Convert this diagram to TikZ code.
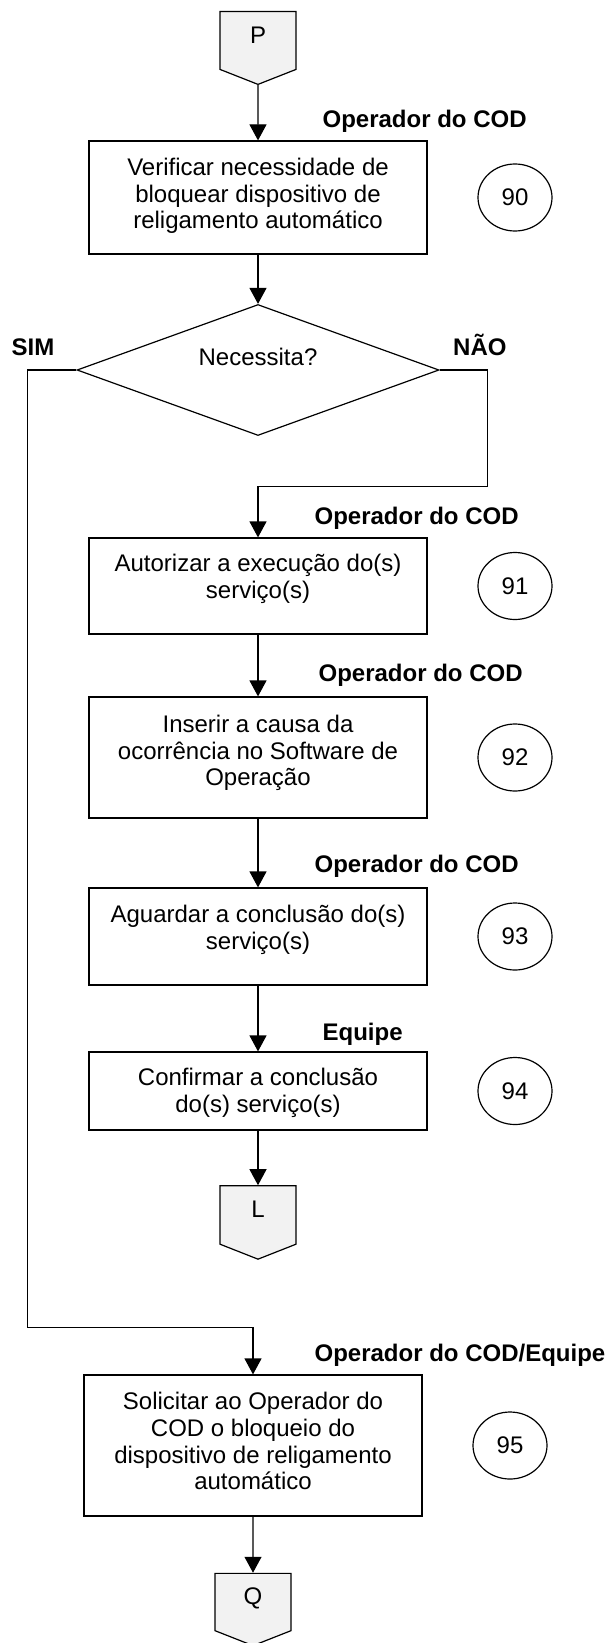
\documentclass[tikz,border=0pt]{standalone}
\usepackage{fontspec}
\setmainfont{Liberation Sans}
\usetikzlibrary{shapes.geometric,shapes.symbols,arrows.meta}
% texto da caixa, levantado um pouco
\newcommand{\boxtext}[2]{\raisebox{#1}[\height][\depth]{\begin{tabular}{@{}c@{}}#2\end{tabular}}}

\begin{document}
\begin{tikzpicture}[font=\fontsize{12}{13.35}\selectfont, line width=0.6pt,
    box/.style = {draw, rectangle, minimum width=169pt, inner sep=2pt},
    num/.style = {draw, ellipse, minimum width=37pt, minimum height=33.5pt, inner sep=0pt},
    ask/.style = {draw, diamond, aspect=2.76, minimum width=181pt, minimum height=65.5pt, inner sep=0pt, text height=9pt, text depth=13.4pt},
    offpage/.style = {draw, fill=gray!10, signal, signal to=south, signal pointer angle=137, minimum width=38pt, minimum height=30.5pt, inner sep=0pt, text depth=5.5pt},
    role/.style = {font=\fontsize{12}{13.35}\selectfont\bfseries, inner sep=0pt},
    flow/.style = {-{Triangle[length=8pt,width=8.5pt]}}]
                \useasboundingbox (0,0) rectangle (303pt,-821.5pt);
                \node[offpage] (p) at (129pt,-20.25pt) {P};
                \node[box, minimum height=56.5pt] (b1) [below of = p, node distance = 78.5pt] {\boxtext{0.4pt}{Verificar necessidade de\\bloquear dispositivo de\\religamento automático}};
                \node[ask] (d) [below of = b1, node distance = 86.25pt] {Necessita?};
                \node[box, minimum height=48pt] (b2) [below of = d, node distance = 108pt] {\boxtext{3.1pt}{Autorizar a execução do(s)\\serviço(s)}};
                \node[box, minimum height=60.5pt] (b3) [below of = b2, node distance = 85.75pt] {\boxtext{1.9pt}{Inserir a causa da\\ocorrência no Software de\\Operação}};
                \node[box, minimum height=48.5pt] (b4) [below of = b3, node distance = 89.5pt] {\boxtext{3.1pt}{Aguardar a conclusão do(s)\\serviço(s)}};
                \node[box, minimum height=39pt] (b5) [below of = b4, node distance = 77.25pt] {\boxtext{-1.2pt}{Confirmar a conclusão\\do(s) serviço(s)}};
                \node[offpage] (l) [below of = b5, node distance = 62pt] {L};
                \node[box, minimum height=70.5pt] (b6) [below of = l, node distance = 115.25pt, xshift = -2.5pt] {\boxtext{0.6pt}{Solicitar ao Operador do\\COD o bloqueio do\\dispositivo de religamento\\automático}};
                \node[offpage] (q) [below of = b6, node distance = 78.25pt] {Q};
                % numeros das etapas
                \node[num] (n90) [right of = b1, node distance = 128.5pt] {90};
                \node[num] (n91) [right of = b2, node distance = 128.5pt] {91};
                \node[num] (n92) [right of = b3, node distance = 128.5pt] {92};
                \node[num] (n93) [right of = b4, node distance = 128.5pt] {93};
                \node[num] (n94) [right of = b5, node distance = 128.5pt] {94};
                \node[num] (n95) [right of = b6, node distance = 128.5pt] {95};
                % responsaveis
                \node[role, anchor=base west] (r1) at ([shift={(32pt,6.5pt)}]b1.north) {Operador do COD};
                \node[role, anchor=base west] (r2) at ([shift={(28pt,6.5pt)}]b2.north) {Operador do COD};
                \node[role, anchor=base west] (r3) at ([shift={(30pt,7.5pt)}]b3.north) {Operador do COD};
                \node[role, anchor=base west] (r4) at ([shift={(28pt,7.5pt)}]b4.north) {Operador do COD};
                \node[role, anchor=base west] (r5) at ([shift={(32pt,5.5pt)}]b5.north) {Equipe};
                \node[role, anchor=base west] (r6) at ([shift={(30.5pt,6.5pt)}]b6.north) {Operador do COD/Equipe};
                \node[role, anchor=base east] (sim) at ([shift={(-10.75pt,7.5pt)}]d.west) {SIM};
                \node[role, anchor=base west] (nao) at ([shift={(6.5pt,7.5pt)}]d.east) {NÃO};
                \draw[flow] (p) -- (b1);
                \draw[flow] (b1) -- (d);
                \draw[flow] (d.east) -- ++(24pt,0) |- ([yshift=25.5pt]b2.north) -- (b2.north);
                \draw[flow] (b2) -- (b3);
                \draw[flow] (b3) -- (b4);
                \draw[flow] (b4) -- (b5);
                \draw[flow] (b5) -- (l);
                \draw[flow] (d.west) -- ++(-24.5pt,0) |- ([yshift=23.5pt]b6.north) -- (b6.north);
                \draw[flow] (b6) -- (q);
            \end{tikzpicture}
\end{document}
